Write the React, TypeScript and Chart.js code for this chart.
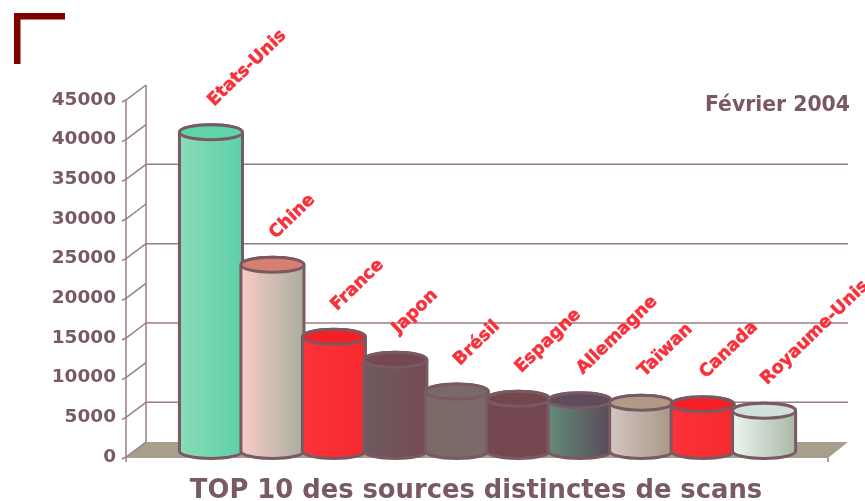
import React, { useEffect, useRef } from "react";
import { Chart, registerables } from "chart.js";

Chart.register(...registerables);

const countries = ["Etats-Unis", "Chine", "France", "Japon", "Brésil", "Espagne", "Allemagne", "Taïwan", "Canada", "Royaume-Unis"];
const scans = [40000, 23300, 14200, 11300, 7300, 6400, 6200, 5900, 5700, 4900];
const gradientStart = ["#8adcb8", "#f9ccc6", "#ff3139", "#6d5b5f", "#7a6a68", "#744650", "#648a7a", "#d3c6c1", "#ff3139", "#ecf5f1"];
const gradientEnd = ["#5dd0a8", "#a8ad9f", "#f42a2e", "#764a54", "#7c6b6a", "#744650", "#584a58", "#a89786", "#f42a2e", "#a9b8a5"];
const capColors = ["#5fd3a9", "#d8806f", "#f32028", "#734852", "#7b6868", "#744650", "#5e4c5c", "#b09a85", "#f32028", "#d2e2da"];
const pageTitle = "TOP 10 des sources distinctes de scans";
const dateLabel = "Février 2004";

const INK = "#7a5a62";
const GRID = "#987f85";
const RED = "#f9303a";
const DX = 20;
const DY = 15;
const RY = 7.5;

const cylinders = {
  id: "cylinders",
  beforeDatasetsDraw(chart: any) {
    const { ctx, scales } = chart;
    const { x, y } = scales;
    const l = x.left, r = x.right, y0 = y.getPixelForValue(0);
    ctx.save();
    ctx.fillStyle = "#a89e8e";
    ctx.beginPath();
    ctx.moveTo(l, y0 + 1);
    ctx.lineTo(l + DX, y0 - DY);
    ctx.lineTo(r + DX, y0 - DY);
    ctx.lineTo(r, y0 + 1);
    ctx.closePath();
    ctx.fill();
    ctx.strokeStyle = GRID;
    ctx.lineWidth = 1.5;
    y.ticks.forEach((t: any) => {
      const py = y.getPixelForValue(t.value);
      if (t.value % 10000 === 5000 && t.value < y.max) {
        ctx.beginPath();
        ctx.moveTo(l + DX, py - DY);
        ctx.lineTo(r + DX, py - DY);
        ctx.stroke();
      }
      ctx.beginPath();
      ctx.moveTo(l - 4, py + 2);
      ctx.lineTo(l, py);
      ctx.lineTo(l + DX, py - DY);
      ctx.stroke();
    });
    ctx.beginPath();
    ctx.moveTo(l, y.top);
    ctx.lineTo(l, y0 + 5);
    ctx.moveTo(l + DX, y.top - DY);
    ctx.lineTo(l + DX, y0 - DY);
    ctx.moveTo(r, y0 + 1);
    ctx.lineTo(r, y0 + 5);
    ctx.stroke();
    ctx.restore();
  },
  afterDatasetsDraw(chart: any) {
    const { ctx, scales } = chart;
    const { y } = scales;
    const y0 = y.getPixelForValue(0) - 6;
    const bars = chart.getDatasetMeta(0).data;
    ctx.save();
    bars.forEach((bar: any, i: number) => {
      const rx = bar.width / 2 + 0.8;
      const top = bar.y - RY;
      const g = ctx.createLinearGradient(bar.x - rx, 0, bar.x + rx, 0);
      g.addColorStop(0, gradientStart[i]);
      g.addColorStop(1, gradientEnd[i]);
      ctx.beginPath();
      ctx.moveTo(bar.x - rx, top);
      ctx.lineTo(bar.x - rx, y0);
      ctx.ellipse(bar.x, y0, rx, RY, 0, Math.PI, 0, true);
      ctx.lineTo(bar.x + rx, top);
      ctx.ellipse(bar.x, top, rx, RY, 0, 0, Math.PI, true);
      ctx.closePath();
      ctx.fillStyle = g;
      ctx.fill();
      ctx.strokeStyle = INK;
      ctx.lineWidth = 3;
      ctx.stroke();
      ctx.beginPath();
      ctx.ellipse(bar.x, top, rx, RY, 0, 0, Math.PI * 2);
      ctx.fillStyle = capColors[i];
      ctx.fill();
      ctx.stroke();
    });
    ctx.fillStyle = RED;
    ctx.strokeStyle = RED;
    ctx.lineWidth = 0.5;
    ctx.lineJoin = "round";
    ctx.font = "bold 17.5px 'DejaVu Sans'";
    ctx.textBaseline = "alphabetic";
    ctx.textAlign = "left";
    bars.forEach((bar: any, i: number) => {
      ctx.save();
      ctx.translate(bar.x + 3, bar.y - 7 - 26);
      ctx.rotate((-44 * Math.PI) / 180);
      ctx.fillText(countries[i], 0, 0);
      ctx.strokeText(countries[i], 0, 0);
      ctx.restore();
    });
    ctx.fillStyle = INK;
    ctx.textAlign = "right";
    ctx.font = "bold 20.4px 'DejaVu Sans'";
    ctx.fillText(dateLabel, 850, 111);
    ctx.textAlign = "center";
    ctx.font = "bold 25.8px 'DejaVu Sans'";
    ctx.fillText(pageTitle, 476, 498);
    ctx.fillStyle = "#800000";
    ctx.fillRect(14, 13, 51, 6.5);
    ctx.fillRect(14, 13, 6.5, 51);
    ctx.restore();
  },
};

export default function App() {
  const ref = useRef<HTMLCanvasElement>(null);
  useEffect(() => {
    document.body.style.margin = "0";
    const chart = new Chart(ref.current!, {
      type: "bar",
      data: {
        datasets: [
          {
            label: "Sources distinctes de scans",
            data: scans.map((v, i) => ({ x: i, y: v })),
            backgroundColor: "rgba(0,0,0,0)",
            barPercentage: 1,
            categoryPercentage: 1,
          },
        ],
      },
      options: {
        animation: false,
        responsive: false,
        layout: { padding: { top: 100, bottom: 44, right: 37, left: 0 } },
        plugins: { legend: { display: false }, tooltip: { enabled: false } },
        scales: {
          x: { type: "linear", min: -1.383, max: 10.04, offset: false, display: false },
          y: {
            min: 0,
            max: 45000,
            afterFit: (s: any) => { s.width = 126; },
            border: { display: false },
            grid: { display: false, drawTicks: false },
            ticks: {
              stepSize: 5000,
              color: INK,
              padding: 10,
              callback: (v: any) => String(v),
              font: { family: "DejaVu Sans", weight: "bold", size: 18.5 },
            },
          },
        },
      },
      plugins: [cylinders],
    } as any);
    return () => chart.destroy();
  }, []);
  return <canvas ref={ref} width={865} height={501} style={{ display: "block" }} />;
}
